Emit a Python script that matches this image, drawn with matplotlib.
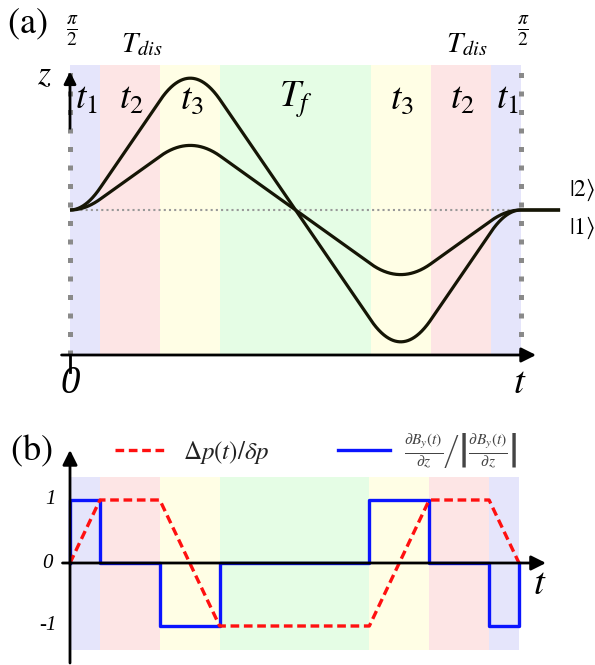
import numpy as np
import matplotlib
matplotlib.use("Agg")
import matplotlib.pyplot as plt

plt.rcParams['font.family'] = ['Liberation Serif', 'DejaVu Serif']
plt.rcParams['mathtext.fontset'] = 'stix'

# ---- data ----
# segment boundaries (time units): t1, t2, t3, Tf, t3, t2, t1
seg_edges = [0, 1, 3, 5, 10, 12, 14, 15]
seg_labels = [r'$t_{\mathit{1}}$', r'$t_{\mathit{2}}$', r'$t_{\mathit{3}}$', r'$T_f$',
              r'$t_{\mathit{3}}$', r'$t_{\mathit{2}}$', r'$t_{\mathit{1}}$']
seg_colors = ['#e5e5fb', '#fde5e5', '#fffee5', '#e5fde5', '#fffee5', '#fde5e5', '#e5e5fb']

# momentum kick profile Δp(t)/δp at the breakpoints
dp_times = [0, 1, 3, 5, 10, 12, 14, 15]
dp_vals = [0, 1, 1, -1, -1, 1, 1, 0]

# gradient sign profile (step function)
grad_times = [0, 0, 1, 1, 3, 3, 5, 5, 10, 10, 12, 12, 14, 14, 15, 15]
grad_vals = [0, 1, 1, 0, 0, -1, -1, 0, 0, 1, 1, 0, 0, -1, -1, 0]

# relative amplitude of the two trajectories
traj_scale = [1.0, 0.49]

W, H = 595, 665
fig = plt.figure(figsize=(W / 100, H / 100), dpi=100)


def pos(x0, y0, x1, y1):
    return [x0 / W, 1 - y1 / H, (x1 - x0) / W, (y1 - y0) / H]


def ft(x, y, s, **kw):
    kw.setdefault('ha', 'center')
    kw.setdefault('va', 'center')
    fig.text(x / W, 1 - y / H, s, **kw)


# ================= panel (a) =================
axa = fig.add_axes(pos(70, 65, 521, 355))
axa.set_xlim(0, 15)
axa.set_ylim(-1.1, 1.1)
axa.axis('off')
for i in range(len(seg_colors)):
    axa.axvspan(seg_edges[i], seg_edges[i + 1], color=seg_colors[i], lw=0, zorder=0)

# trajectories from integrating the momentum profile
tt = np.linspace(0, 15, 1501)
p = np.interp(tt, dp_times, dp_vals)
z = np.concatenate([[0], np.cumsum((p[1:] + p[:-1]) / 2 * np.diff(tt))])
z = z / z.max()
tt_ext = np.concatenate([tt, [16.3]])
axa.axhline(0, color='#999999', lw=1.5, ls=(0, (1, 1.5)), zorder=1)
for s in traj_scale:
    axa.plot(tt_ext, np.concatenate([z * s, [0]]), color='#151505', lw=2.3,
             clip_on=False, zorder=3, solid_capstyle='butt')

# gray dotted boundaries
for xv in [0, 15]:
    axa.plot([xv, xv], [-1.1, 1.12], color='#8a8a8a', lw=3.6, ls=(0, (1, 2.7)),
             clip_on=False, zorder=4)
# axes arrows
axa.annotate('', xy=(15.5, -1.1), xytext=(-0.28, -1.1),
             arrowprops=dict(arrowstyle='-|>', lw=2, color='k', mutation_scale=22,
                             shrinkA=0, shrinkB=0), annotation_clip=False, zorder=5)
axa.annotate('', xy=(0, 1.05), xytext=(0, 0.62),
             arrowprops=dict(arrowstyle='-|>', lw=2, color='k', mutation_scale=18,
                             shrinkA=0, shrinkB=0), annotation_clip=False, zorder=5)
axa.plot([0, 0], [-1.1, -1.23], color='k', lw=2, clip_on=False, zorder=5)

label_x = [86, 131, 192, 296, 402, 462, 507]
for xl, lab in zip(label_x, seg_labels):
    ft(xl, 100, lab, fontsize=27)

ft(27, 24, r'$\mathrm{(a)}$', fontsize=26)
ft(72, 31, r'$\frac{\pi}{2}$', fontsize=20)
ft(523, 31, r'$\frac{\pi}{2}$', fontsize=20)
ft(142, 45, r'$T_{dis}$', fontsize=21)
ft(467, 45, r'$T_{dis}$', fontsize=21)
ft(44, 76, r'$z$', fontsize=24)
ft(70, 383, '0', fontsize=28, style='italic')
ft(520, 383, r'$t$', fontsize=28)
ft(569, 190, r'$|2\rangle$', fontsize=17, ha='left')
ft(569, 228, r'$|1\rangle$', fontsize=17, ha='left')

# ================= panel (b) =================
axb = fig.add_axes(pos(70, 477, 519, 650))
axb.set_xlim(0, 15)
axb.set_ylim((563 - 650) / 63, (563 - 477) / 63)
axb.axis('off')
for i in range(len(seg_colors)):
    axb.axvspan(seg_edges[i], seg_edges[i + 1], color=seg_colors[i], lw=0, zorder=0)

axb.plot(grad_times, grad_vals, color='#0a14ff', lw=2.4, zorder=3, clip_on=False)
axb.plot(dp_times, dp_vals, color='#ff1010', lw=2.4, ls=(0, (2.6, 1.4)), zorder=4,
         clip_on=False)

axb.annotate('', xy=(15.9, 0), xytext=(-0.25, 0),
             arrowprops=dict(arrowstyle='-|>', lw=2, color='k', mutation_scale=22,
                             shrinkA=0, shrinkB=0), annotation_clip=False, zorder=6)
axb.annotate('', xy=(0, (563 - 450) / 63), xytext=(0, (563 - 663) / 63),
             arrowprops=dict(arrowstyle='-|>', lw=2, color='k', mutation_scale=22,
                             shrinkA=0, shrinkB=0), annotation_clip=False, zorder=6)

ft(31, 451, r'$\mathrm{(b)}$', fontsize=26)
ft(50, 500, '1', fontsize=15, style='italic')
ft(47, 563, '0', fontsize=15, style='italic')
ft(48, 626, '-1', fontsize=15, style='italic')
ft(540, 585, r'$t$', fontsize=28)

# legend drawn manually
fig.add_artist(plt.Line2D([115 / W, 166 / W], [1 - 450 / H] * 2, color='#ff1010', lw=2.4,
                          ls=(0, (2.6, 1.4))))
ft(183, 452, r'$\Delta p(t)/\delta p$', fontsize=18, ha='left', color='#222222')
fig.add_artist(plt.Line2D([338 / W, 390 / W], [1 - 450 / H] * 2, color='#0a14ff', lw=2.4))
ft(404, 451, r'$\left.\frac{\partial B_y(t)}{\partial z}\right/\left|\frac{\partial B_y(t)}{\partial z}\right|$',
   fontsize=16, ha='left', color='#444444')

fig.savefig('out.png', dpi=100)
